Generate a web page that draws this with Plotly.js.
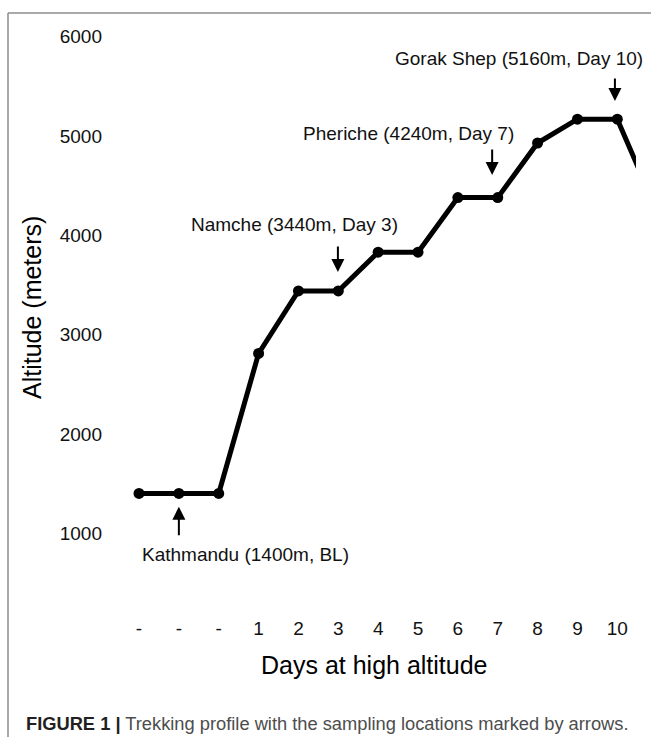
<!DOCTYPE html>
<html>
<head>
<meta charset="utf-8">
<script src="https://cdn.plot.ly/plotly-3.0.1.min.js"></script>
<style>
  html, body { margin: 0; padding: 0; background: #ffffff; }
  #chart { width: 651px; height: 737px; }
</style>
</head>
<body>
<div id="chart"></div>
<script>
// ---- data ----
const dayIndex = [0, 1, 2, 3, 4, 5, 6, 7, 8, 9, 10, 11, 12, 13];
const altitude = [1400, 1400, 1400, 2810, 3440, 3440, 3830, 3830, 4380, 4380, 4930, 5170, 5170, 4240];
const tickIndex = [0, 1, 2, 3, 4, 5, 6, 7, 8, 9, 10, 11, 12];
const tickLabels = ['-', '-', '-', '1', '2', '3', '4', '5', '6', '7', '8', '9', '10'];
const altitudeTicks = [1000, 2000, 3000, 4000, 5000, 6000];

const siteLabels = ['Kathmandu (1400m, BL)', 'Namche (3440m, Day 3)', 'Pheriche (4240m, Day 7)', 'Gorak Shep (5160m, Day 10)'];
const siteLabelX = [2.66, 3.90, 6.77, 9.53];
const siteLabelY = [790, 4114, 5030, 5785];
const arrowX = [1, 4.99, 8.86, 11.94];
const arrowHeadY = [1267, 3630, 4607, 5352];
const arrowTail = [30, -27, -27, -24];

const FONT = 'Liberation Sans, Arial, Helvetica, sans-serif';

const trace = {
  x: dayIndex,
  y: altitude,
  type: 'scatter',
  mode: 'lines+markers',
  line: { color: '#000000', width: 5 },
  marker: { color: '#000000', size: 11 },
  cliponaxis: true,
  hoverinfo: 'skip'
};

const annotations = [];
for (let i = 0; i < siteLabels.length; i++) {
  annotations.push({
    x: arrowX[i], y: arrowHeadY[i], xref: 'x', yref: 'y',
    text: '', showarrow: true, ax: 0, ay: arrowTail[i],
    arrowhead: 2, arrowsize: 1.3, arrowwidth: 2, arrowcolor: '#000000'
  });
  annotations.push({
    x: siteLabelX[i], y: siteLabelY[i], xref: 'x', yref: 'y',
    text: siteLabels[i], showarrow: false,
    xanchor: 'center', yanchor: 'middle',
    font: { family: FONT, size: 19, color: '#111111' }
  });
}
annotations.push({
  xref: 'paper', yref: 'paper', x: 0.5038, y: -0.0855,
  text: 'Days at high altitude', showarrow: false,
  xanchor: 'center', yanchor: 'middle',
  font: { family: FONT, size: 25, color: '#000000' }
});
annotations.push({
  xref: 'paper', yref: 'paper', x: -0.1439, y: 0.5248,
  text: 'Altitude (meters)', showarrow: false, textangle: -90,
  xanchor: 'center', yanchor: 'middle',
  font: { family: FONT, size: 25, color: '#000000' }
});
annotations.push({
  xref: 'paper', yref: 'paper', x: -0.159, y: -0.1863,
  text: '<span style="color:#231f20"><b>FIGURE 1 |</b></span> <span style="color:#4d4d4d">Trekking profile with the sampling locations marked by arrows.</span>',
  showarrow: false, xanchor: 'left', yanchor: 'middle',
  font: { family: FONT, size: 18.3, color: '#333333' }
});

const layout = {
  width: 651, height: 737,
  margin: { l: 108, r: 15, t: 30, b: 122, pad: 0 },
  paper_bgcolor: '#ffffff', plot_bgcolor: '#ffffff',
  showlegend: false,
  xaxis: {
    range: [-0.778, 12.469],
    tickmode: 'array', tickvals: tickIndex, ticktext: tickLabels,
    showgrid: false, zeroline: false, showline: false, ticks: '',
    tickfont: { family: FONT, size: 19, color: '#111111' },
    fixedrange: true
  },
  yaxis: {
    range: [176, 6068],
    tickmode: 'array', tickvals: altitudeTicks,
    showgrid: false, zeroline: false, showline: false, ticks: '',
    ticklabelstandoff: 5,
    tickfont: { family: FONT, size: 19, color: '#111111' },
    fixedrange: true
  },
  shapes: [
    { type: 'line', xref: 'paper', yref: 'paper', x0: -0.1894, x1: 1.03, y0: 1.0291, y1: 1.0291,
      line: { color: '#8c8c8c', width: 1.5 } },
    { type: 'line', xref: 'paper', yref: 'paper', x0: -0.1894, x1: -0.1894, y0: 1.0291, y1: -0.21,
      line: { color: '#8c8c8c', width: 1.5 } }
  ],
  annotations: annotations
};

Plotly.newPlot('chart', [trace], layout, { displayModeBar: false, staticPlot: true });
</script>
</body>
</html>
